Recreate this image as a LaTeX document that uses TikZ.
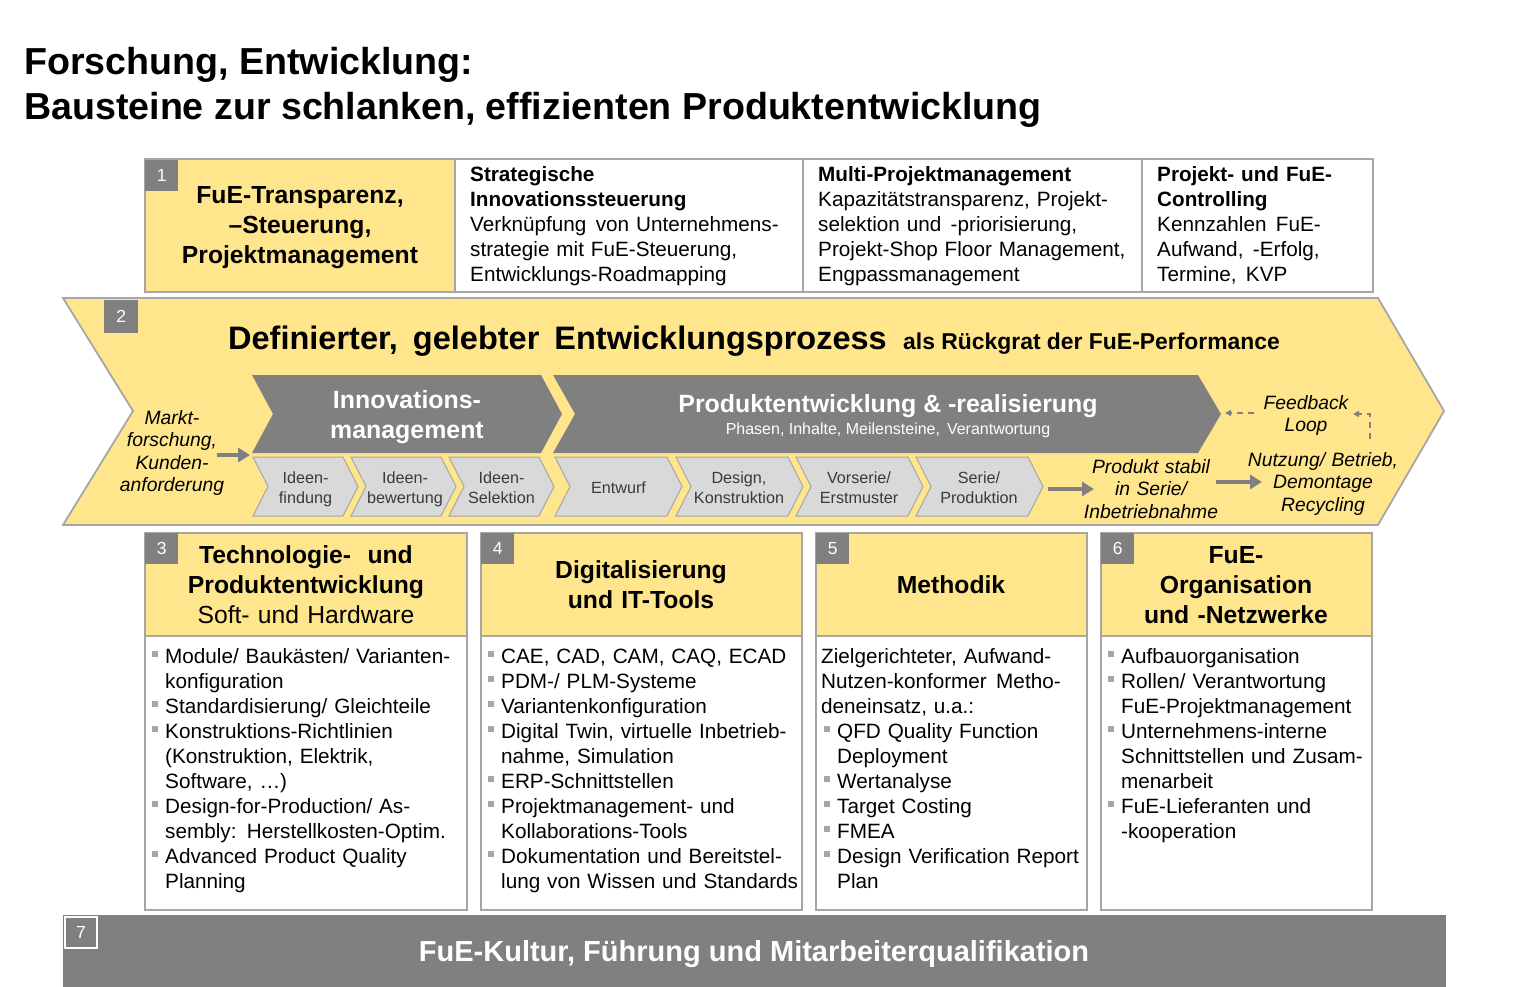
\documentclass[tikz,border=0pt]{standalone}
\usepackage{fontspec}
\setmainfont{Liberation Sans}
\usetikzlibrary{arrows.meta}
\definecolor{yel}{HTML}{FFE68C}
\definecolor{dgray}{HTML}{808080}
\definecolor{lgray}{HTML}{D9D9D9}
\definecolor{bgray}{HTML}{A6A6A6}
\definecolor{tgray}{HTML}{3A3A3A}
\newcommand{\fsz}[2]{\fontsize{#1}{#2}\selectfont}
\newcommand{\bulsq}{\makebox[14pt][l]{\hspace{1pt}\textcolor{bgray}{\rule[6.5pt]{6pt}{6pt}}}}
\newcommand{\indsq}{\hspace*{14pt}}
\newcommand{\xsp}{\hspace{2.5pt} }
\tikzset{
  frame/.style={draw=bgray,line width=1.8pt},
  badge/.style={fill=dgray,text=white,font=\fsz{17.5}{20},inner sep=0,minimum width=33pt,minimum height=31pt,anchor=north west},
  bodytxt/.style={inner sep=0,anchor=base west,align=left,text width=340pt,font=\fsz{20.7}{25}},
  hdrtxt/.style={inner sep=0,anchor=base,align=center,text width=320pt,font=\bfseries\fsz{24.7}{30}},
  chevbox/.style={fill=lgray,draw=bgray,line width=1pt},
  bigchev/.style={fill=dgray},
  chevtxt/.style={inner sep=0,anchor=base,align=center,text width=110pt,text=tgray,font=\fsz{16.2}{20}},
  itxt/.style={inner sep=0,anchor=base,align=center,text width=180pt,font=\itshape\fsz{19.3}{22.5}},
  garrow/.style={draw=dgray,line width=4.5pt,-{Triangle[length=12pt,width=14pt]}},
  darrow/.style={draw=dgray,line width=1.6pt,dash pattern=on 6pt off 5pt,-{Triangle[length=6pt,width=6pt]}},
}
\begin{document}
\begin{tikzpicture}[x=1pt,y=-1pt]
\useasboundingbox (0,0) rectangle (1537,987);
\fill[white] (0,0) rectangle (1537,987);
% Title
\node[inner sep=0,anchor=base west,font=\bfseries\fsz{37.6}{45}] (title1) at (24,75) {Forschung, Entwicklung:};
\node[inner sep=0,anchor=base west,font=\bfseries\fsz{37.6}{45}] (title2) at (24,120) {Bausteine zur schlanken, effizienten Produktentwicklung};

% Top row
\draw[frame,fill=yel] (145,159) rectangle (455,292);
\draw[frame] (455,159) rectangle (803,292);
\draw[frame] (803,159) rectangle (1142,292);
\draw[frame] (1142,159) rectangle (1373,292);
\node[badge] (b1) at (145,160) {1};
\node[hdrtxt] (h1) at (300,204) {FuE-Transparenz,\\–Steuerung,\\Projektmanagement};
\node[bodytxt] (t2) at (470,182) {\textbf{Strategische}\\\textbf{Innovationssteuerung}\\Verknüpfung\xsp von Unternehmens-\\strategie mit FuE-Steuerung,\\Entwicklungs-Roadmapping};
\node[bodytxt] (t3) at (818,182) {\textbf{Multi-Projektmanagement}\\Kapazitätstransparenz, Projekt-\\selektion und\xsp -priorisierung,\\Projekt-Shop Floor Management,\\Engpassmanagement};
\node[bodytxt] (t4) at (1157,182) {\textbf{Projekt- und FuE-}\\\textbf{Controlling}\\Kennzahlen\xsp FuE-\\Aufwand,\xsp -Erfolg,\\Termine,\xsp KVP};

% Big process chevron
\draw[frame,fill=yel] (63,298) -- (1378,298) -- (1444,411) -- (1378,525) -- (63,525) -- (133,411) -- cycle;
\node[badge,minimum width=34pt,minimum height=33pt] (b2) at (104,300) {2};
\node[inner sep=0,anchor=base west,font=\bfseries\fsz{32.5}{36}] (h2) at (228,349) {Definierter,\hspace{6pt} gelebter\hspace{6pt} Entwicklungsprozess};
\node[inner sep=0,anchor=base west,font=\bfseries\fsz{22.9}{26}] (h2b) at (903,349) {als Rückgrat der FuE-Performance};

% dark chevrons
\fill[bigchev] (252,375) -- (541,375) -- (562,414) -- (541,453) -- (252,453) -- (273,414) -- cycle;
\fill[bigchev] (553,375) -- (1198,375) -- (1221,414) -- (1198,453) -- (553,453) -- (575,414) -- cycle;
\node[inner sep=0,anchor=base,align=center,text width=250pt,text=white,font=\bfseries\fsz{24.9}{30}] (inno) at (407,408) {Innovations-\\management};
\node[inner sep=0,anchor=base,text=white,font=\bfseries\fsz{24.9}{30}] (prod) at (888,412) {Produktentwicklung \& -realisierung};
\node[inner sep=0,anchor=base,text=white,font=\fsz{16}{20}] (prodsub) at (888,434) {Phasen, Inhalte, Meilensteine,\xsp Verantwortung};

% small chevrons
\draw[chevbox] (253,457) -- (343,457) -- (358,486.5) -- (343,516) -- (253,516) -- (268,486.5) -- cycle;
\draw[chevbox] (351,457) -- (441,457) -- (456,486.5) -- (441,516) -- (351,516) -- (366,486.5) -- cycle;
\draw[chevbox] (449,457) -- (539,457) -- (554,486.5) -- (539,516) -- (449,516) -- (464,486.5) -- cycle;
\draw[chevbox] (555,457) -- (667,457) -- (682,486.5) -- (667,516) -- (555,516) -- (570,486.5) -- cycle;
\draw[chevbox] (676,457) -- (788,457) -- (803,486.5) -- (788,516) -- (676,516) -- (691,486.5) -- cycle;
\draw[chevbox] (796,457) -- (908,457) -- (923,486.5) -- (908,516) -- (796,516) -- (811,486.5) -- cycle;
\draw[chevbox] (916,457) -- (1028,457) -- (1043,486.5) -- (1028,516) -- (916,516) -- (931,486.5) -- cycle;
\node[chevtxt] (c1) at (305.5,483) {Ideen-\\findung};
\node[chevtxt] (c2) at (405,483) {Ideen-\\bewertung};
\node[chevtxt] (c3) at (501.5,483) {Ideen-\\Selektion};
\node[chevtxt] (c4) at (618.5,493) {Entwurf};
\node[chevtxt] (c5) at (739,483) {Design,\\Konstruktion};
\node[chevtxt] (c6) at (859,483) {Vorserie/\\Erstmuster};
\node[chevtxt] (c7) at (979,483) {Serie/\\Produktion};

% italic texts and arrows
\node[itxt,text width=120pt] (markt) at (172,424) {Markt-\\forschung,\\Kunden-\\anforderung};
\node[itxt] (stabil) at (1151,473) {Produkt stabil\\in Serie/\\Inbetriebnahme};
\node[itxt] (nutz) at (1323,466) {Nutzung/ Betrieb,\\Demontage\\Recycling};
\node[itxt] (feed) at (1306,409) {Feedback\\Loop};
\coordinate (m1) at (217,455);
\coordinate (m2) at (250,455);
\coordinate (p1) at (1048,489);
\coordinate (p2) at (1094,489);
\coordinate (n1) at (1216,482);
\coordinate (n2) at (1262,482);
\coordinate (f1) at (1370,439);
\coordinate (f2) at (1370,414);
\coordinate (f3) at (1353,414);
\coordinate (g1) at (1254,413);
\coordinate (g2) at (1225,413);
\draw[garrow] (m1) -- (m2);
\draw[garrow] (p1) -- (p2);
\draw[garrow] (n1) -- (n2);
\draw[darrow] (f1) -- (f2) -- (f3);
\draw[darrow] (g1) -- (g2);

% bottom boxes
\draw[frame,fill=yel] (145,533) rectangle (467,636);
\draw[frame] (145,636) rectangle (467,910);
\draw[frame,fill=yel] (481,533) rectangle (802,636);
\draw[frame] (481,636) rectangle (802,910);
\draw[frame,fill=yel] (816,533) rectangle (1087,636);
\draw[frame] (816,636) rectangle (1087,910);
\draw[frame,fill=yel] (1101,533) rectangle (1372,636);
\draw[frame] (1101,636) rectangle (1372,910);
\node[badge] (b3) at (145,533) {3};
\node[badge] (b4) at (481,533) {4};
\node[badge] (b5) at (816,533) {5};
\node[badge] (b6) at (1101,533) {6};
\node[hdrtxt] (h3) at (306,563) {Technologie-\ \ und\\Produktentwicklung\\\mdseries Soft- und Hardware};
\node[hdrtxt] (h4) at (641,578) {Digitalisierung\\und IT-Tools};
\node[hdrtxt] (h5) at (951,593) {Methodik};
\node[hdrtxt] (h6) at (1236,563) {FuE-\\Organisation\\und -Netzwerke};

\node[bodytxt] (l3) at (151,663) {\bulsq Module/ Baukästen/ Varianten-\\\indsq konfiguration\\\bulsq Standardisierung/ Gleichteile\\\bulsq Konstruktions-Richtlinien\\\indsq (Konstruktion, Elektrik,\\\indsq Software, …)\\\bulsq Design-for-Production/ As-\\\indsq sembly: Herstellkosten-Optim.\\\bulsq Advanced Product Quality\\\indsq Planning};
\node[bodytxt] (l4) at (487,663) {\bulsq CAE, CAD, CAM, CAQ, ECAD\\\bulsq PDM-/ PLM-Systeme\\\bulsq Variantenkonfiguration\\\bulsq Digital Twin, virtuelle Inbetrieb-\\\indsq nahme, Simulation\\\bulsq ERP-Schnittstellen\\\bulsq Projektmanagement- und\\\indsq Kollaborations-Tools\\\bulsq Dokumentation und Bereitstel-\\\indsq lung von Wissen und Standards};
\node[bodytxt] (l5) at (821,663) {Zielgerichteter, Aufwand-\\Nutzen-konformer\xsp Metho-\\deneinsatz, u.a.:\\\hspace*{2pt}\bulsq QFD Quality Function\\\hspace*{16pt}Deployment\\\hspace*{2pt}\bulsq Wertanalyse\\\hspace*{2pt}\bulsq Target Costing\\\hspace*{2pt}\bulsq FMEA\\\hspace*{2pt}\bulsq Design Verification Report\\\hspace*{16pt}Plan};
\node[bodytxt] (l6) at (1107,663) {\bulsq Aufbauorganisation\\\bulsq Rollen/ Verantwortung\\\indsq FuE-Projektmanagement\\\bulsq Unternehmens-interne\\\indsq Schnittstellen und Zusam-\\\indsq menarbeit\\\bulsq FuE-Lieferanten und\\\indsq -kooperation};

% bottom bar
\fill[dgray] (63,915) rectangle (1446,987);
\node[badge,draw=white,line width=1.8pt,minimum width=32pt,minimum height=31pt] (b7) at (64,916) {7};
\node[inner sep=0,anchor=base,text=white,font=\bfseries\fsz{29}{34}] (kultur) at (754,961) {FuE-Kultur, Führung und Mitarbeiterqualifikation};
\end{tikzpicture}
\end{document}
